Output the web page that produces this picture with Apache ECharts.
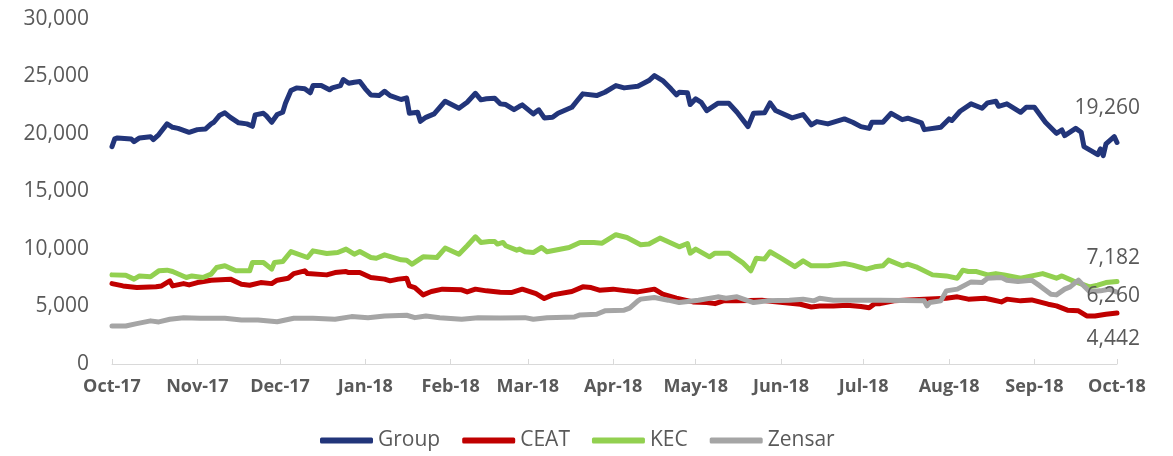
<!DOCTYPE html>
<html>
<head>
<meta charset="utf-8">
<script src="https://cdn.jsdelivr.net/npm/echarts@6/dist/echarts.min.js"></script>
<style>
html,body{margin:0;padding:0;background:#fff;}
#chart{width:1173px;height:456px;}
</style>
</head>
<body>
<div id="chart"></div>
<script>
// Day offsets from 1 Oct 2017 and values
var seriesNames = ['Group', 'CEAT', 'KEC', 'Zensar'];
var monthLabels = ['Jan','Feb','Mar','Apr','May','Jun','Jul','Aug','Sep','Oct','Nov','Dec'];
var yTicks = [0, 5000, 10000, 15000, 20000, 25000, 30000];

var groupDays = [0,1,2,7,8,10,14,15,17,20,22,24,28,31,34,36,37,39,41,43,46,49,51,52,55,56,58,60,62,63,65,67,70,72,73,76,79,80,83,84,86,88,90,92,94,97,99,101,105,107,108,111,112,114,117,121,126,129,132,134,136,139,141,143,146,148,149,153,155,157,160,162,167,169,171,176,179,183,186,191,195,197,200,203,205,206,209,210,212,214,216,220,224,227,231,233,237,239,241,247,251,254,256,260,266,269,272,275,276,280,283,287,289,294,295,301,304,305,308,312,316,318,321,322,325,330,332,335,339,343,345,346,350,352,353,356,358,359,360,361,364,365];
var groupValues = [18900,19570,19660,19570,19340,19660,19770,19510,19950,20880,20580,20490,20150,20380,20440,20880,21020,21600,21840,21450,20970,20880,20670,21660,21800,21600,21020,21690,21890,22670,23780,24010,23930,23580,24210,24210,23840,24010,24210,24740,24410,24500,24560,23930,23400,23340,23720,23340,23000,23140,21800,21890,21100,21450,21750,22850,22240,22760,23540,22970,23060,23110,22620,22560,22120,22410,22530,21750,22100,21400,21450,21800,22320,22910,23490,23340,23630,24210,24010,24150,24650,25080,24650,23930,23400,23630,23580,22560,23060,22760,22040,22670,22670,21890,20640,21800,21840,22710,22040,21400,21690,20790,21080,20880,21310,21020,20640,20490,21020,21020,21800,21250,21370,20970,20380,20580,21310,21170,21980,22620,22240,22710,22850,22410,22620,21890,22320,22320,21020,20060,20350,19860,20490,20150,18900,18490,18200,18700,18120,19140,19770,19260];

var ceatDays = [0,4,9,16,18,21,22,26,28,31,36,43,47,50,54,58,60,64,66,70,71,78,81,85,86,90,94,99,101,104,107,108,110,113,116,120,127,129,132,136,141,145,149,154,157,160,167,171,174,177,182,187,191,197,200,205,211,216,219,222,227,236,240,250,254,257,262,267,272,275,277,279,284,295,303,307,311,317,320,323,325,330,334,340,343,347,351,354,357,361,365];
var ceatValues = [6990,6790,6650,6710,6790,7230,6790,6990,6880,7080,7290,7380,6940,6850,7080,6990,7290,7460,7860,8100,7860,7750,7950,8040,7950,7950,7520,7380,7230,7380,7460,6790,6650,6010,6300,6510,6450,6270,6510,6360,6240,6210,6510,6120,5690,6010,6300,6710,6650,6420,6510,6360,6270,6510,6070,5720,5400,5340,5250,5490,5490,5550,5430,5200,4960,5050,5050,5110,5000,4900,5250,5250,5490,5640,5720,5840,5640,5720,5570,5400,5640,5490,5570,5200,5050,4680,4620,4180,4180,4330,4442];

var kecDays = [0,5,8,10,14,17,20,22,27,29,33,36,38,41,45,50,51,55,58,59,62,65,71,73,78,82,85,88,90,94,96,99,105,107,109,113,118,121,126,129,132,134,137,139,140,142,143,147,148,150,153,156,158,166,170,175,178,183,187,192,195,199,206,209,210,212,217,219,224,229,232,234,237,239,243,248,251,254,260,266,269,272,274,277,280,282,287,289,292,298,303,307,309,311,314,318,321,324,330,338,343,345,349,355,358,361,365];
var kecValues = [7750,7720,7380,7660,7580,8100,8160,8040,7520,7660,7520,7810,8390,8540,8100,8100,8820,8820,8250,8820,8910,9780,9260,9840,9610,9690,9990,9550,9780,9260,9200,9490,9060,9030,8680,9320,9260,10080,9550,10280,11060,10570,10650,10650,10430,10570,10280,9900,9990,9760,9690,10130,9760,10130,10570,10570,10510,11240,11000,10370,10430,10950,10190,10480,9640,9990,9320,9640,9640,8820,8100,9200,9120,9760,9200,8470,8970,8540,8540,8740,8600,8390,8250,8450,8540,9030,8540,8680,8450,7750,7660,7460,8160,8040,8040,7750,7860,7750,7460,7860,7460,7660,7230,6710,6850,7080,7182];

var zensarDays = [0,5,9,14,17,21,26,32,41,47,53,60,66,73,81,87,93,99,107,110,114,119,127,133,141,150,153,158,168,170,176,179,186,188,191,192,197,202,206,213,220,223,227,233,238,246,251,255,257,262,279,295,296,297,301,303,307,312,316,318,323,325,329,334,337,341,343,346,348,351,353,355,359,362,365];
var zensarValues = [3310,3310,3510,3750,3660,3890,4030,3980,3980,3830,3830,3680,3980,3980,3890,4120,4030,4180,4240,4030,4180,4030,3890,4030,4000,4030,3890,4030,4090,4270,4330,4620,4680,4850,5490,5640,5780,5550,5340,5550,5840,5720,5840,5340,5490,5550,5640,5490,5720,5550,5550,5490,5050,5340,5490,6360,6510,7140,7080,7460,7520,7290,7170,7290,6790,6070,6010,6510,6710,7290,6790,6300,6360,6500,6260];

var DAY = 86400000;
var START = Date.UTC(2017, 9, 1);
var END = Date.UTC(2018, 9, 1);

function pairs(days, values) {
  return days.map(function (d, i) { return [START + d * DAY, values[i]]; });
}
function fmt(v) {
  return String(Math.round(v)).replace(/\B(?=(\d{3})+(?!\d))/g, ',');
}

var colors = ['#22357A', '#C00000', '#92D050', '#A5A5A5'];
var labelDy = [-34, 26, -23, 4];
var legendSpacer = [1, 8, 23, 1];
var dataSets = [
  pairs(groupDays, groupValues),
  pairs(ceatDays, ceatValues),
  pairs(kecDays, kecValues),
  pairs(zensarDays, zensarValues)
];

var FONT = '"Open Sans", "Noto Sans", sans-serif';

var series = seriesNames.map(function (name, i) {
  return {
    name: name,
    type: 'line',
    data: dataSets[i],
    symbol: 'none',
    showSymbol: false,
    smooth: false,
    color: colors[i],
    lineStyle: { width: 5, color: colors[i], cap: 'round', join: 'round' },
    itemStyle: { color: colors[i] },
    endLabel: {
      show: true,
      formatter: function (p) { return fmt(p.value[1]); },
      color: '#595959',
      fontFamily: FONT,
      fontSize: 21,
      align: 'right',
      verticalAlign: 'middle',
      distance: 0,
      offset: [23, labelDy[i]]
    },
    emphasis: { disabled: true },
    animation: false,
    z: 2 + i
  };
});

var legendRich = {};
legendSpacer.forEach(function (w, i) { legendRich['s' + i] = { width: w, height: 1 }; });

var chart = echarts.init(document.getElementById('chart'), null, { renderer: 'canvas' });
chart.setOption({
  useUTC: true,
  animation: false,
  backgroundColor: '#ffffff',
  grid: { left: 112, right: 56, top: 19, bottom: 92, containLabel: false, outerBoundsMode: 'none' },
  legend: {
    data: seriesNames,
    left: 320,
    top: 430,
    padding: 0,
    icon: 'roundRect',
    itemWidth: 53,
    itemHeight: 6,
    itemGap: 22,
    formatter: function (name) {
      var i = seriesNames.indexOf(name);
      return '{n|' + name + '}{s' + i + '|}';
    },
    textStyle: {
      color: '#595959', fontSize: 21, fontFamily: FONT,
      rich: Object.assign({ n: { color: '#595959', fontSize: 21, fontFamily: FONT } }, legendRich)
    }
  },
  xAxis: {
    type: 'time',
    min: START,
    max: END,
    splitNumber: 12,
    minInterval: 28 * DAY,
    maxInterval: 31 * DAY,
    axisLine: { show: true, lineStyle: { color: '#D9D9D9', width: 1 } },
    axisTick: { show: true, inside: true, length: 5, lineStyle: { color: '#D9D9D9' } },
    splitLine: { show: false },
    axisLabel: {
      color: '#595959',
      fontFamily: FONT,
      fontSize: 18,
      fontWeight: 'bold',
      margin: 14,
      hideOverlap: false,
      showMinLabel: true,
      showMaxLabel: true,
      formatter: function (v) {
        var d = new Date(v);
        return monthLabels[d.getUTCMonth()] + '-' + String(d.getUTCFullYear()).slice(2);
      }
    }
  },
  yAxis: {
    type: 'value',
    min: yTicks[0],
    max: yTicks[yTicks.length - 1],
    interval: yTicks[1] - yTicks[0],
    axisLine: { show: false },
    axisTick: { show: false },
    splitLine: { show: false },
    axisLabel: {
      color: '#595959',
      fontFamily: FONT,
      fontSize: 21,
      margin: 23,
      formatter: function (v) { return fmt(v); }
    }
  },
  series: series
});
</script>
</body>
</html>
